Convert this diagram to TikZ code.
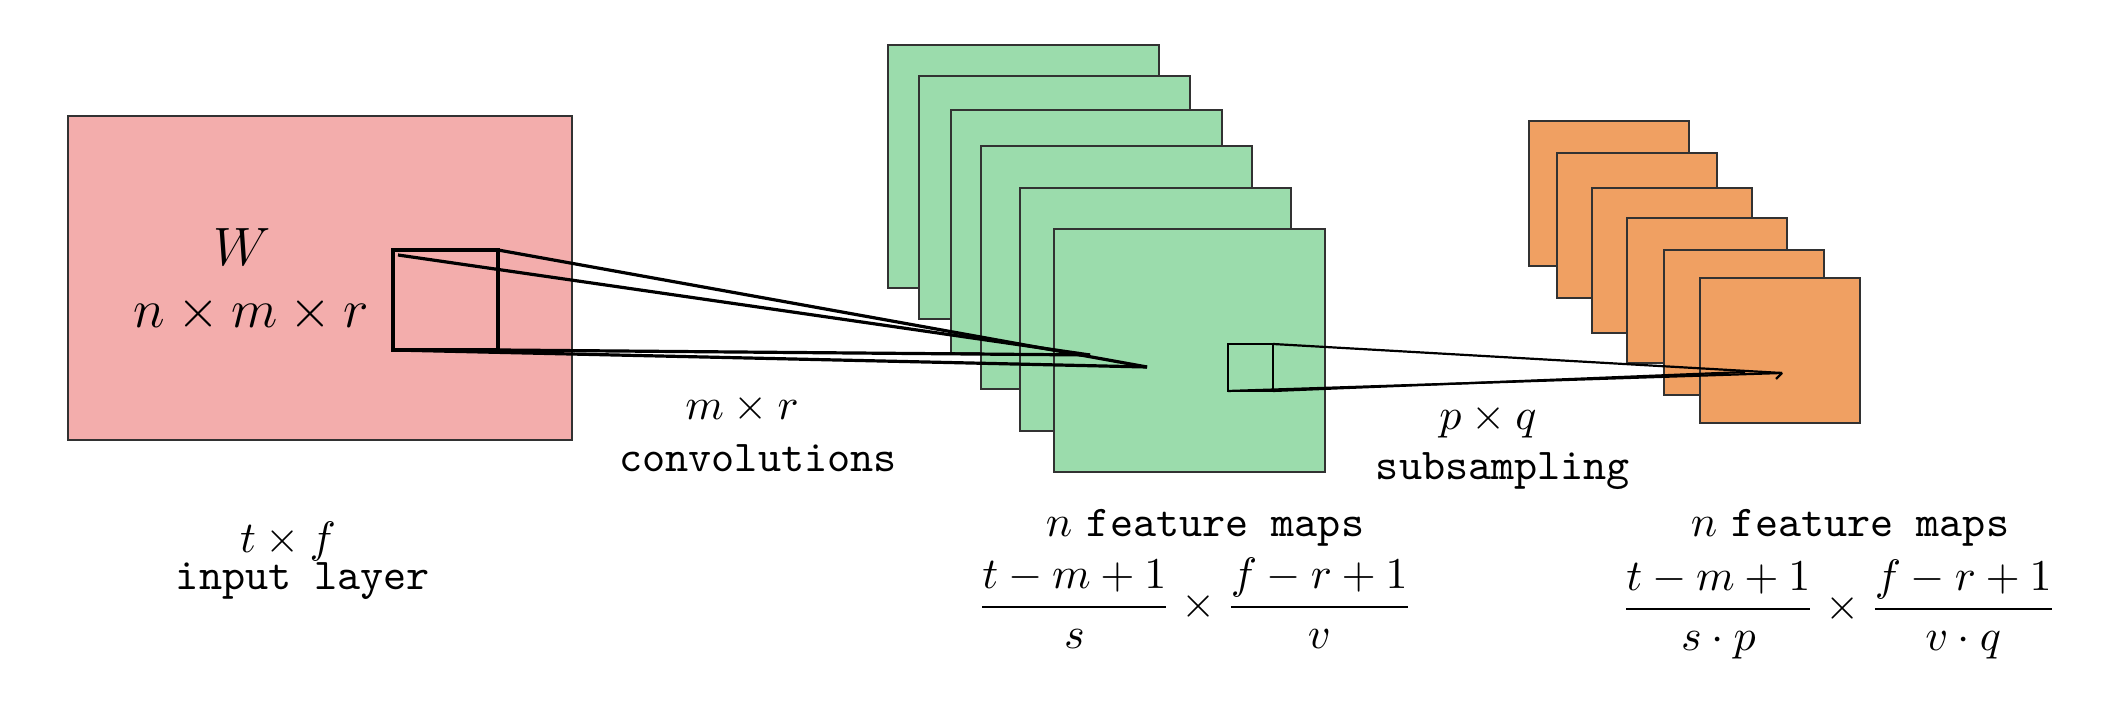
\documentclass[tikz,border=0pt]{standalone}
\definecolor{inred}{RGB}{243,173,172}
\definecolor{fmgreen}{RGB}{155,220,172}
\definecolor{fmorange}{RGB}{240,160,98}
\definecolor{edgegray}{RGB}{50,50,50}
\tikzset{
  layerbox/.style={draw=edgegray, line width=0.5pt, inner sep=0pt, outer sep=0pt, anchor=north west},
  inputbox/.style={layerbox, fill=inred, minimum width=126pt, minimum height=81pt},
  greenmap/.style={layerbox, fill=fmgreen, minimum width=67.75pt, minimum height=60.75pt},
  orangemap/.style={layerbox, fill=fmorange, minimum width=40pt, minimum height=36.25pt},
  kernel/.style={draw=black, line width=0.8pt, inner sep=0pt, outer sep=0pt, anchor=north west},
  conv/.style={draw=black, line width=0.8pt},
  subs/.style={draw=black, line width=0.55pt},
  lbl/.style={anchor=base, inner sep=0pt, font=\normalsize, scale=1.1},
  biglbl/.style={anchor=base, inner sep=0pt, font=\large, scale=1.125}
}
\begin{document}
\begin{tikzpicture}[x=0.25pt, y=-0.25pt]
\useasboundingbox (0,0) rectangle (2104,702);
% input layer
\node[inputbox] (in) at (68,116) {};
\node[kernel, minimum width=26.25pt, minimum height=25pt] (k) at (393,250) {};
\node[biglbl] (w) at (242,266) {$W$};
\node[biglbl] (nmr) at (251,328) {$n\times m\times r$};
% green feature maps
\node[greenmap] (g1) at (888,45) {};
\node[greenmap] (g2) at (919,76) {};
\node[greenmap] (g3) at (951,110) {};
\node[greenmap] (g4) at (981,146) {};
\node[greenmap] (g5) at (1020,188) {};
\node[greenmap] (g6) at (1054,229) {};
% orange maps
\node[orangemap] (o1) at (1529,121) {};
\node[orangemap] (o2) at (1557,153) {};
\node[orangemap] (o3) at (1592,188) {};
\node[orangemap] (o4) at (1627,218) {};
\node[orangemap] (o5) at (1664,250) {};
\node[orangemap] (o6) at (1700,278) {};
% small window on green map
\node[kernel, line width=0.55pt, minimum width=11.25pt, minimum height=11.75pt] (g) at (1228,344) {};
% convolution connectors
\coordinate (k1) at (398,255);
\coordinate (c1) at (1147,367);
\coordinate (c2) at (1090,355);
\draw[conv] (k1) -- (c2);
\draw[conv] (k.north east) -- (c1);
\draw[conv] (k.south west) -- (c1);
\draw[conv] (k.south east) -- (c2);
% subsampling connectors
\coordinate (s1) at (1782,373);
\coordinate (s2) at (1745,372);
\coordinate (s3) at (1776,379);
\draw[subs] (g.north east) -- (s1);
\draw[subs] (g.south west) -- (s1);
\draw[subs] (g.south east) -- (s2);
\draw[subs] (s1) -- (s3);
% labels
\node[lbl] (tf) at (288,553) {$t\times f$};
\node[lbl] (il) at (303,590) {\texttt{input layer}};
\node[lbl] (mr) at (742,420) {$m\times r$};
\node[lbl] (cv) at (758,472) {\texttt{convolutions}};
\node[lbl] (pq) at (1488,430) {$p\times q$};
\node[lbl] (ss) at (1503,480) {\texttt{subsampling}};
\node[lbl] (fm1) at (1205,537) {$n$ \texttt{feature maps}};
\node[lbl] (fr1) at (1195,618) {$\displaystyle\frac{t-m+1}{s}\times\frac{f-r+1}{v}$};
\node[lbl] (fm2) at (1850,537) {$n$ \texttt{feature maps}};
\node[lbl] (fr2) at (1839,620) {$\displaystyle\frac{t-m+1}{s\cdot p}\times\frac{f-r+1}{v\cdot q}$};
\end{tikzpicture}
\end{document}
